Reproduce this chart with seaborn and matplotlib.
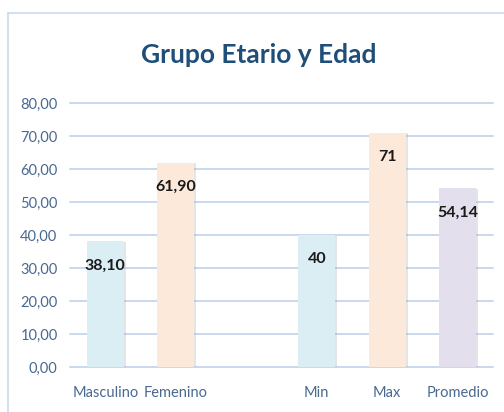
import matplotlib
matplotlib.use("Agg")
import matplotlib.pyplot as plt
import matplotlib.patheffects as pe
import seaborn as sns
import pandas as pd
from matplotlib.lines import Line2D

categories = ["Masculino", "Femenino", "Min", "Max", "Promedio"]
values = [38.10, 61.90, 40, 71, 54.14]
value_labels = ["38,10", "61,90", "40", "71", "54,14"]
order = ["Masculino", "Femenino", " ", "Min", "Max", "Promedio"]
bar_colors = ["#DAEEF3", "#FDE9D9", "#DAEEF3", "#FDE9D9", "#E4DFEC"]
yticks = [0, 10, 20, 30, 40, 50, 60, 70, 80]
ytick_labels = ["0,00", "10,00", "20,00", "30,00", "40,00", "50,00", "60,00", "70,00", "80,00"]
title = "Grupo Etario y Edad"

sns.set_style("white")
plt.rcParams['font.family'] = ['Lato', 'DejaVu Sans']

df = pd.DataFrame({"cat": categories, "val": values})
fig = plt.figure(figsize=(5.04, 4.12), dpi=100)
ax = fig.add_axes([70/504, 1-367/412, (493-70)/504, (367-103)/412])

palette = dict(zip(categories, bar_colors))
sns.barplot(data=df, x="cat", y="val", order=order, hue="cat", palette=palette,
            width=0.52, ax=ax, legend=False, saturation=1, zorder=3,
            edgecolor="none")
for p in ax.patches:
    p.set_path_effects([pe.SimplePatchShadow(offset=(1.5, -0.5), shadow_rgbFace="#999999", alpha=0.25),
                        pe.Normal()])

ax.set_ylim(0, 80)
ax.set_xlim(-0.5, len(order) - 0.5)
ax.set_yticks(yticks)
ax.set_yticklabels(ytick_labels)
ax.yaxis.grid(True, color="#C6D6EE", linewidth=1.3, zorder=0)
for gl in ax.get_ygridlines():
    gl.set_clip_on(False)
ax.set_axisbelow(True)
for s in ax.spines.values():
    s.set_visible(False)
ax.tick_params(axis="both", length=0, labelsize=10.5, labelcolor="#4A6890")
ax.tick_params(axis="x", pad=14)
ax.tick_params(axis="y", pad=9)
ax.set_xlabel("")
ax.set_ylabel("")

for cat, v, lab in zip(categories, values, value_labels):
    xi = order.index(cat)
    ax.text(xi, v - 7.3, lab, ha="center", va="center", fontsize=11.5,
            fontweight="bold", color="#1a1a1a", zorder=5)

fig.text(259/504, 1-55/412, title, ha="center", va="center", fontsize=19,
         fontweight="bold", color="#1F4E79")

# chart border
fig.add_artist(Line2D([8/504, 8/504], [0, 1-13/412], color="#C9DAF0", linewidth=1.2,
                      transform=fig.transFigure))
fig.add_artist(Line2D([8/504, 1.0], [1-13/412, 1-13/412], color="#C9DAF0", linewidth=1.2,
                      transform=fig.transFigure))

fig.savefig("out.png", dpi=100)
